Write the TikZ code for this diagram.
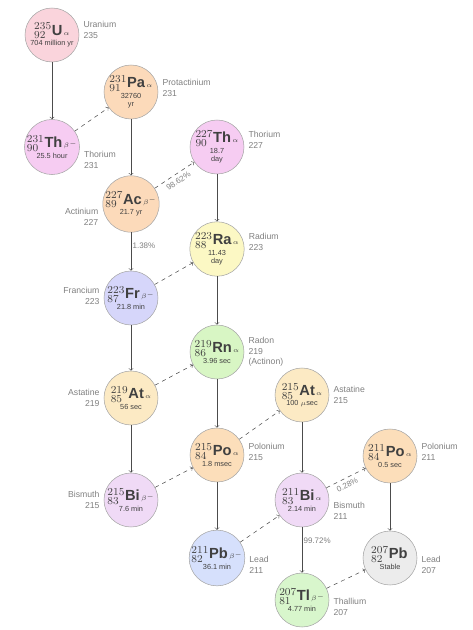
\documentclass[tikz,border=0pt]{standalone}
\usepackage{fontspec}
\setmainfont{Liberation Sans}
\usetikzlibrary{positioning}

\definecolor{uranium}{RGB}{250,212,220}
\definecolor{thorium}{RGB}{246,204,242}
\definecolor{protact}{RGB}{252,218,186}
\definecolor{radium}{RGB}{252,248,196}
\definecolor{francium}{RGB}{214,214,250}
\definecolor{radon}{RGB}{216,246,196}
\definecolor{astatine}{RGB}{252,234,196}
\definecolor{polonium}{RGB}{252,222,186}
\definecolor{bismuth}{RGB}{240,218,246}
\definecolor{lead}{RGB}{214,224,252}
\definecolor{stable}{RGB}{236,236,236}
\definecolor{thallium}{RGB}{216,246,204}

% nuclide symbol: mass, charge, element, decay mode
\newcommand{\nuc}[4]{{\fontsize{11}{11}\selectfont${}^{#1}_{#2}$\textbf{#3}}\,#4}

\tikzset{
	nuclide/.style={circle, draw=gray!70, thin, minimum size=40.5pt, inner sep=0pt, align=center, text=black!75, font=\fontsize{5.5}{6.5}\selectfont},
	elemname/.style={text=gray, font=\fontsize{6.5}{8}\selectfont, inner sep=0pt},
	adecay/.style={->, gray!60!black},
	bdecay/.style={->, gray!60!black, dashed},
	branch/.style={text=gray, font=\fontsize{6}{7}\selectfont, inner sep=1pt},
}

\begin{document}
\begin{tikzpicture}[x=0.75pt, y=-0.75pt]
\useasboundingbox (0,0) rectangle (473,630);

\node[nuclide, fill=uranium]  (U235)  at (52,35)   {\nuc{235}{92}{U}{$\alpha$}\\704 million yr};
\node[nuclide, fill=thorium]  (Th231) at (52,147)  {\nuc{231}{90}{Th}{$\beta^-$}\\25.5 hour};
\node[nuclide, fill=protact]  (Pa231) at (131,92)  {\nuc{231}{91}{Pa}{$\alpha$}\\32760\\yr};
\node[nuclide, fill=protact]  (Ac227) at (131,204) {\nuc{227}{89}{Ac}{$\beta^-$}\\21.7 yr};
\node[nuclide, fill=thorium]  (Th227) at (217,147) {\nuc{227}{90}{Th}{$\alpha$}\\18.7\\day};
\node[nuclide, fill=radium]   (Ra223) at (217,249) {\nuc{223}{88}{Ra}{$\alpha$}\\11.43\\day};
\node[nuclide, fill=francium] (Fr223) at (131,298) {\nuc{223}{87}{Fr}{$\beta^-$}\\21.8 min};
\node[nuclide, fill=radon]    (Rn219) at (217,352) {\nuc{219}{86}{Rn}{$\alpha$}\\3.96 sec};
\node[nuclide, fill=astatine] (At219) at (131,398) {\nuc{219}{85}{At}{$\alpha$}\\56 sec};
\node[nuclide, fill=bismuth]  (Bi215) at (131,500) {\nuc{215}{83}{Bi}{$\beta^-$}\\7.6 min};
\node[nuclide, fill=polonium] (Po215) at (217,455) {\nuc{215}{84}{Po}{$\alpha$}\\1.8 msec};
\node[nuclide, fill=astatine] (At215) at (302,395) {\nuc{215}{85}{At}{$\alpha$}\\100 $\mu$sec};
\node[nuclide, fill=bismuth]  (Bi211) at (302,500) {\nuc{211}{83}{Bi}{$\alpha$}\\2.14 min};
\node[nuclide, fill=polonium] (Po211) at (390,456) {\nuc{211}{84}{Po}{$\alpha$}\\0.5 sec};
\node[nuclide, fill=lead]     (Pb211) at (217,558) {\nuc{211}{82}{Pb}{$\beta^-$}\\36.1 min};
\node[nuclide, fill=thallium] (Tl207) at (302,600) {\nuc{207}{81}{Tl}{$\beta^-$}\\4.77 min};
\node[nuclide, fill=stable]   (Pb207) at (390,558) {\nuc{207}{82}{Pb}{}\\Stable};

% names beside the circles
\node[elemname, align=left,  right=3pt of U235,  yshift=3.75pt]  (U235n)  {Uranium\\235};
\node[elemname, align=left,  right=3pt of Th231, yshift=-9.75pt] (Th231n) {Thorium\\231};
\node[elemname, align=left,  right=3pt of Pa231, yshift=3pt]     (Pa231n) {Protactinium\\231};
\node[elemname, align=right, left=3pt of Ac227,  yshift=-9.75pt] (Ac227n) {Actinium\\227};
\node[elemname, align=left,  right=3pt of Th227, yshift=5.25pt]  (Th227n) {Thorium\\227};
\node[elemname, align=left,  right=3pt of Ra223, yshift=5.25pt]  (Ra223n) {Radium\\223};
\node[elemname, align=right, left=3pt of Fr223,  yshift=1.5pt]   (Fr223n) {Francium\\223};
\node[elemname, align=left,  right=3pt of Rn219]                 (Rn219n) {Radon\\219\\(Actinon)};
\node[elemname, align=right, left=3pt of At219]                  (At219n) {Astatine\\219};
\node[elemname, align=right, left=3pt of Bi215]                  (Bi215n) {Bismuth\\215};
\node[elemname, align=left,  right=3pt of Po215, yshift=2.25pt]  (Po215n) {Polonium\\215};
\node[elemname, align=left,  right=3pt of At215]                 (At215n) {Astatine\\215};
\node[elemname, align=left,  right=3pt of Bi211, yshift=-8.25pt] (Bi211n) {Bismuth\\211};
\node[elemname, align=left,  right=3pt of Po211, yshift=3pt]     (Po211n) {Polonium\\211};
\node[elemname, align=left,  right=3pt of Pb211, yshift=-5.25pt] (Pb211n) {Lead\\211};
\node[elemname, align=left,  right=3pt of Tl207, yshift=-5.25pt] (Tl207n) {Thallium\\207};
\node[elemname, align=left,  right=3pt of Pb207, yshift=-5.25pt] (Pb207n) {Lead\\207};

% alpha decays
\draw[adecay] (U235) -- (Th231);
\draw[adecay] (Pa231) -- (Ac227);
\draw[adecay] (Ac227) -- node[branch, pos=0.35, right] {1.38\%} (Fr223);
\draw[adecay] (Th227) -- (Ra223);
\draw[adecay] (Ra223) -- (Rn219);
\draw[adecay] (Fr223) -- (At219);
\draw[adecay] (At219) -- (Bi215);
\draw[adecay] (Rn219) -- (Po215);
\draw[adecay] (Po215) -- (Pb211);
\draw[adecay] (At215) -- (Bi211);
\draw[adecay] (Bi211) -- node[branch, pos=0.3, right] {99.72\%} (Tl207);
\draw[adecay] (Po211) -- (Pb207);

% beta decays
\draw[bdecay] (Th231) -- (Pa231);
\draw[bdecay] (Ac227) -- node[branch, pos=0.5, below=2pt, sloped] {98.62\%} (Th227);
\draw[bdecay] (Fr223) -- (Ra223);
\draw[bdecay] (At219) -- (Rn219);
\draw[bdecay] (Bi215) -- (Po215);
\draw[bdecay] (Po215) -- (At215);
\draw[bdecay] (Pb211) -- (Bi211);
\draw[bdecay] (Bi211) -- node[branch, pos=0.45, below=2pt, sloped] {0.28\%} (Po211);
\draw[bdecay] (Tl207) -- (Pb207);
\end{tikzpicture}
\end{document}
